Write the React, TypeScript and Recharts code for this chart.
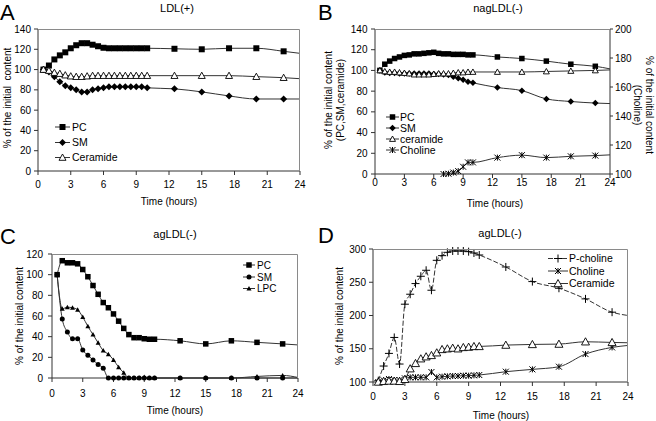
import React from 'react';
import { LineChart, Line, XAxis, YAxis } from 'recharts';

const FONT = 'Arial, "Liberation Sans", Helvetica, sans-serif';

// sampling times (hours), shared by all panels
const hours = [0.5, 1, 1.5, 2, 2.5, 3, 3.5, 4, 4.5, 5, 5.5, 6, 6.5, 7, 7.5, 8, 8.5, 9, 9.5, 10, 12.5, 15, 17.5, 20, 22.5, 24];
const xTicks = [0, 3, 6, 9, 12, 15, 18, 21, 24];

// A - LDL(+)
const ldlPC = [100, 104, 110, 114, 117, 121, 124, 126, 126, 124.5, 123, 121.5, 121, 121, 121, 121, 121, 121, 121, 121, 120.5, 120, 121, 121, 118, 116];
const ldlSM = [100, 97.5, 93, 88, 84, 82, 80, 78, 78, 80, 81, 82, 83, 83, 83, 83, 83, 83, 83, 82, 81, 78, 74, 71, 71, 71];
const ldlCer = [100, 99, 97, 96, 94.5, 93.5, 93, 93, 93.5, 94, 94, 94, 94, 94, 94, 94, 94, 94, 94, 94, 94, 94, 94, 93, 92, 91];

// B - nagLDL(-)
const nagPC = [100, 106, 109, 111.5, 113, 114.5, 115, 116, 116, 116.5, 117, 117.5, 116.5, 116, 116, 115.5, 115.5, 115.5, 115, 115, 113, 111.5, 109, 106, 104, 101.5];
const nagSM = [100, 98, 97.5, 97.5, 97, 97, 97, 97, 97, 97, 97, 96.5, 96.5, 96, 95.5, 94, 92.5, 91, 89, 88, 83.5, 80.5, 72.5, 70, 68.5, 68];
const nagCer = [100, 99, 98.5, 98.5, 98, 97.5, 97, 96, 96, 96, 96, 96.5, 97, 97, 97, 97.5, 98, 98, 98.5, 98.5, 98.5, 98.5, 99, 99.5, 100, 100.5];
const nagCholine = [null, null, null, null, null, null, null, null, null, null, null, null, null, 100, 100.2, 101, 102, 105, 108, 108, 111.3, 113, 111.3, 112.2, 112.7, 113.2];

// C - agLDL(-)
const agPC = [100, 113.5, 111.5, 111.5, 110.5, 105, 98, 89.5, 81, 73, 68, 62, 55, 48, 42, 39, 39, 38, 37.5, 37.5, 36, 33, 36, 34.5, 33, 32];
const agSM = [100, 57, 44.5, 38, 38, 27, 22, 17.5, 13, 9.5, 0, 0, 0, 0, 0, 0, 0, 0, 0, 0, 0, 0, 0, 0, 0, 0];
const agLPC = [100, 67, 68.5, 68, 66, 59, 50, 42, 34, 26.5, 23, 17.5, 10.5, 5, 0, 0, 0, 1, 0, 0, 0, 0, 0, 1.5, 2.5, 0.5];

// D - agLDL(-)
const agPCholine = [102, 124, 143, 167, 127, 217, 232, 248, 259, 268, 238, 283, 290, 295, 297, 297, 297, 296, 294, 291, 273, 251, 241, 225, 205, 200];
const agCholine = [100, 102.5, 104.5, 103, 103, 105.5, 107, 107, 107, 107, 115, 107, 108, 108.5, 109, 109, 109.5, 109.5, 110, 110.5, 115.5, 119, 123, 142, 152, 155];
const agCer = [100, 101, 101.5, 101.5, 101, 104, 120, 128, 135, 138, 140, 144, 149, 150, 151, 150, 152, 152.5, 153.5, 153.5, 155.5, 156.5, 157, 160.5, 159.5, 159];

type Shape = 'square' | 'diamond' | 'triOpen' | 'triFill' | 'circle' | 'star' | 'plus';

function Marker({ shape, x, y, s }: { shape: Shape; x: number; y: number; s: number }) {
  const h = s / 2;
  switch (shape) {
    case 'square':
      return <rect x={x - h} y={y - h} width={s} height={s} fill="#000" />;
    case 'diamond':
      return <polygon points={`${x},${y - h - 0.5} ${x + h + 0.5},${y} ${x},${y + h + 0.5} ${x - h - 0.5},${y}`} fill="#000" />;
    case 'triOpen':
      return <polygon points={`${x},${y - h} ${x + h},${y + h * 0.8} ${x - h},${y + h * 0.8}`} fill="#fff" stroke="#000" strokeWidth={0.9} />;
    case 'triFill':
      return <polygon points={`${x},${y - h} ${x + h},${y + h * 0.8} ${x - h},${y + h * 0.8}`} fill="#000" />;
    case 'circle':
      return <circle cx={x} cy={y} r={h} fill="#000" />;
    case 'star':
      return (
        <g stroke="#000" strokeWidth={1}>
          <line x1={x - h} y1={y - h} x2={x + h} y2={y + h} />
          <line x1={x - h} y1={y + h} x2={x + h} y2={y - h} />
          <line x1={x} y1={y - h} x2={x} y2={y + h} />
        </g>
      );
    default:
      return (
        <g stroke="#000" strokeWidth={1}>
          <line x1={x - h} y1={y} x2={x + h} y2={y} />
          <line x1={x} y1={y - h} x2={x} y2={y + h} />
        </g>
      );
  }
}

// no marker on the trailing 24 h point, as in the original
const dot = (shape: Shape, s: number) => (p: any) => {
  const { cx, cy, index, payload } = p;
  if (cx == null || cy == null || isNaN(cy) || payload.t === 24) return <g key={`e${index}`} />;
  return <g key={`m${index}`}><Marker shape={shape} x={cx} y={cy} s={s} /></g>;
};

interface Series {
  key: string;
  values: (number | null)[];
  shape: Shape;
  size: number;
  dash?: string;
  axis?: string;
}

type Rect = [number, number, number, number];

interface PanelProps {
  plot: Rect;
  yDomain: [number, number];
  yTicks: number[];
  series: Series[];
  xTickGap: number;
  yTickGap: number;
  right?: { domain: [number, number]; ticks: number[] };
}

const tickStyle = { fontSize: 10, fill: '#000', fontFamily: FONT };
const axisStroke = { stroke: '#333' };
const FRAME = '#8a8a8a';

// plot areas (left, top, width, height) of the four panels
const plotA: Rect = [38, 29, 262, 142];
const plotB: Rect = [375, 29, 235, 145];
const plotC: Rect = [52, 254, 246, 124];
const plotD: Rect = [373, 249, 255, 133];

function Panel({ plot, yDomain, yTicks, series, xTickGap, yTickGap, right }: PanelProps) {
  const [px, py, pw, ph] = plot;
  const data = hours.map((t, i) => {
    const row: any = { t };
    series.forEach((s) => (row[s.key] = s.values[i]));
    return row;
  });
  return (
    <div style={{ position: 'absolute', left: px - 45, top: py - 5 }}>
      <LineChart width={pw + 95} height={ph + 35} data={data} margin={{ top: 5, left: 0, right: right ? 0 : 50, bottom: 0 }}>
        <XAxis xAxisId="main" dataKey="t" type="number" domain={[0, 24]} ticks={xTicks} height={30}
          tick={tickStyle} tickSize={4} tickMargin={xTickGap} axisLine={axisStroke} tickLine={axisStroke} />
        <YAxis yAxisId="left" type="number" domain={yDomain} ticks={yTicks} width={45} interval={0}
          tick={tickStyle} tickSize={4} tickMargin={yTickGap} axisLine={axisStroke} tickLine={axisStroke} />
        {right && (
          <YAxis yAxisId="right" orientation="right" type="number" domain={right.domain} ticks={right.ticks} width={50} interval={0}
            tick={tickStyle} tickSize={3} tickMargin={2} axisLine={axisStroke} tickLine={axisStroke} />
        )}
        {series.map((s) => (
          <Line key={s.key} xAxisId="main" yAxisId={s.axis || 'left'} dataKey={s.key} type="monotone"
            stroke="#333" strokeWidth={1} strokeDasharray={s.dash} dot={dot(s.shape, s.size)}
            isAnimationActive={false} connectNulls={false} />
        ))}
      </LineChart>
    </div>
  );
}

// top and right edge of a plot area
function Frame({ plot, rightEdge = true }: { plot: Rect; rightEdge?: boolean }) {
  const [px, py, pw, ph] = plot;
  const pts = rightEdge
    ? `${px},${py + 0.5} ${px + pw - 0.5},${py + 0.5} ${px + pw - 0.5},${py + ph}`
    : `${px},${py + 0.5} ${px + pw},${py + 0.5}`;
  return <polyline points={pts} fill="none" stroke={FRAME} strokeWidth={1} />;
}

const seriesA: Series[] = [
  { key: 'PC', values: ldlPC, shape: 'square', size: 6 },
  { key: 'SM', values: ldlSM, shape: 'diamond', size: 6 },
  { key: 'Ceramide', values: ldlCer, shape: 'triOpen', size: 7 },
];
const seriesB: Series[] = [
  { key: 'PC', values: nagPC, shape: 'square', size: 5.5 },
  { key: 'SM', values: nagSM, shape: 'diamond', size: 5.5 },
  { key: 'ceramide', values: nagCer, shape: 'triOpen', size: 6 },
  { key: 'Choline', values: nagCholine, shape: 'star', size: 6, axis: 'right' },
];
const seriesC: Series[] = [
  { key: 'PC', values: agPC, shape: 'square', size: 5.5 },
  { key: 'SM', values: agSM, shape: 'circle', size: 5 },
  { key: 'LPC', values: agLPC, shape: 'triFill', size: 5 },
];
const seriesD: Series[] = [
  { key: 'P-choline', values: agPCholine, shape: 'plus', size: 8, dash: '5 2' },
  { key: 'Choline', values: agCholine, shape: 'star', size: 6 },
  { key: 'Ceramide', values: agCer, shape: 'triOpen', size: 8 },
];

function LegendBlock({ items, x1, x2, tx, ys, size }: { items: Series[]; x1: number; x2: number; tx: number; ys: number[]; size: number }) {
  return (
    <g>
      {items.map((s, i) => (
        <g key={s.key}>
          <line x1={x1} y1={ys[i]} x2={x2} y2={ys[i]} stroke="#333" strokeWidth={1} strokeDasharray={s.dash} />
          <Marker shape={s.shape} x={(x1 + x2) / 2} y={ys[i]} s={s.size} />
          <text x={tx} y={ys[i] + 3.7} fontSize={size}>{s.key}</text>
        </g>
      ))}
    </g>
  );
}

export default function App() {
  return (
    <div style={{ position: 'absolute', left: 0, top: 0, width: 656, height: 421, background: '#fff', fontFamily: FONT }}>
      <Panel plot={plotA} yDomain={[0, 140]} yTicks={[0, 20, 40, 60, 80, 100, 120, 140]}
        series={seriesA} xTickGap={5.5} yTickGap={3} />
      <Panel plot={plotB} yDomain={[0, 140]} yTicks={[0, 20, 40, 60, 80, 100, 120, 140]}
        series={seriesB} xTickGap={1} yTickGap={3.5} right={{ domain: [100, 200], ticks: [100, 120, 140, 160, 180, 200] }} />
      <Panel plot={plotC} yDomain={[0, 120]} yTicks={[0, 20, 40, 60, 80, 100, 120]}
        series={seriesC} xTickGap={8} yTickGap={5} />
      <Panel plot={plotD} yDomain={[100, 300]} yTicks={[100, 150, 200, 250, 300]}
        series={seriesD} xTickGap={7} yTickGap={3} />

      <svg width={656} height={421} style={{ position: 'absolute', left: 0, top: 0, pointerEvents: 'none' }}
        fontFamily={FONT} fill="#000">
        <Frame plot={plotA} />
        <Frame plot={plotB} rightEdge={false} />
        <Frame plot={plotC} />
        <Frame plot={plotD} />

        <text x={0} y={20} fontSize={22}>A</text>
        <text x={318} y={20} fontSize={22}>B</text>
        <text x={0} y={244} fontSize={22}>C</text>
        <text x={318} y={243} fontSize={22}>D</text>

        <text x={177} y={12} fontSize={11} textAnchor="middle">LDL(+)</text>
        <text x={498} y={12} fontSize={11} textAnchor="middle">nagLDL(-)</text>
        <text x={175} y={238} fontSize={11} textAnchor="middle">agLDL(-)</text>
        <text x={500} y={237} fontSize={11} textAnchor="middle">agLDL(-)</text>

        <text x={169} y={205} fontSize={10} textAnchor="middle">Time (hours)</text>
        <text x={495} y={207} fontSize={10} textAnchor="middle">Time (hours)</text>
        <text x={175} y={414} fontSize={10} textAnchor="middle">Time (hours)</text>
        <text x={501} y={419} fontSize={10} textAnchor="middle">Time (hours)</text>

        <text transform="translate(11,98) rotate(-90)" fontSize={10} textAnchor="middle" xmlSpace="preserve">% of the initial  content</text>
        <text transform="translate(332,100) rotate(-90)" fontSize={10} textAnchor="middle">% of the initial content</text>
        <text transform="translate(344,100) rotate(-90)" fontSize={10} textAnchor="middle">(PC,SM,ceramide)</text>
        <text transform="translate(646,105) rotate(90)" fontSize={10} textAnchor="middle">% of the initial content</text>
        <text transform="translate(634,105) rotate(90)" fontSize={10} textAnchor="middle">(Choline)</text>
        <text transform="translate(23,316) rotate(-90)" fontSize={10} textAnchor="middle">% of the initial content</text>
        <text transform="translate(343,316) rotate(-90)" fontSize={10} textAnchor="middle">% of the initial content</text>

        <LegendBlock items={seriesA} x1={55} x2={70} tx={72} ys={[127, 142.5, 157.5]} size={10.5} />
        <LegendBlock items={seriesB} x1={386} x2={399} tx={400} ys={[117, 128, 139, 150]} size={10.5} />
        <LegendBlock items={seriesC} x1={243} x2={255} tx={257} ys={[265, 277, 288.5]} size={10} />
        <LegendBlock items={seriesD} x1={548} x2={568} tx={569} ys={[258.5, 271, 283.5]} size={10.5} />
      </svg>
    </div>
  );
}
